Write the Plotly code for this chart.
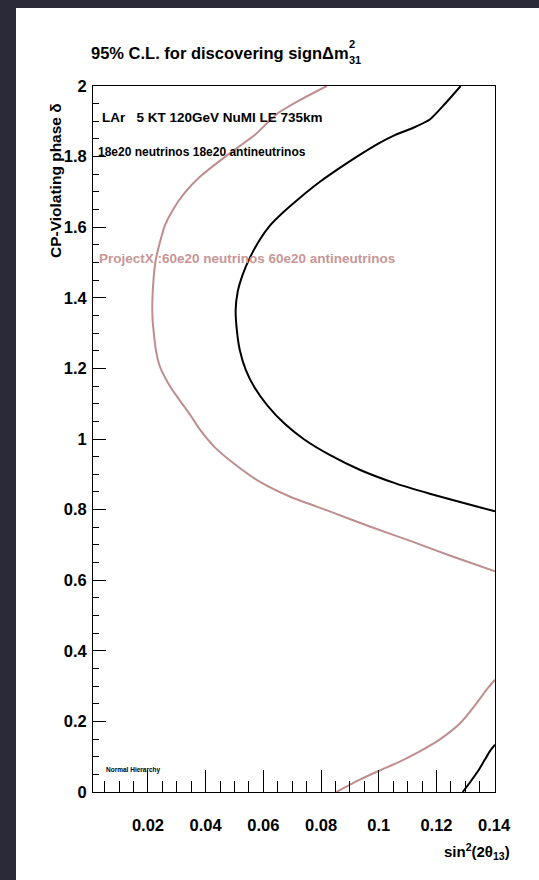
import plotly.graph_objects as go

# ---- tick labels ----
x_tickvals = [0.02, 0.04, 0.06, 0.08, 0.10, 0.12, 0.14]
x_ticktext = ["0.02", "0.04", "0.06", "0.08", "0.1", "0.12", "0.14"]
y_tickvals = [0, 0.2, 0.4, 0.6, 0.8, 1.0, 1.2, 1.4, 1.6, 1.8, 2.0]
y_ticktext = ["0", "0.2", "0.4", "0.6", "0.8", "1", "1.2", "1.4", "1.6", "1.8", "2"]

# ---- ProjectX contour (60e20 + 60e20), upper branch ----
projx_up_x = [0.0820, 0.0726, 0.0650, 0.0570, 0.0476, 0.0379, 0.0327, 0.0286, 0.0258,
              0.0241, 0.0227, 0.0220, 0.0215, 0.0216, 0.0220, 0.0227, 0.0241, 0.0268,
              0.0305, 0.0345, 0.0379, 0.0431, 0.0500, 0.0587, 0.0691, 0.0830, 0.0969,
              0.1107, 0.1246, 0.1403]
projx_up_y = [2.000, 1.960, 1.923, 1.861, 1.805, 1.742, 1.697, 1.649, 1.604,
              1.556, 1.508, 1.460, 1.386, 1.338, 1.302, 1.254, 1.206, 1.161,
              1.115, 1.070, 1.028, 0.977, 0.929, 0.879, 0.837, 0.795, 0.752,
              0.712, 0.670, 0.625]
# lower branch
projx_lo_x = [0.0853, 0.0934, 0.1003, 0.1073, 0.1142, 0.1212, 0.1281, 0.1333, 0.1374, 0.1403]
projx_lo_y = [0.000, 0.035, 0.061, 0.086, 0.115, 0.149, 0.194, 0.245, 0.290, 0.318]

# ---- NuMI LE contour (18e20 + 18e20), upper branch ----
numi_up_x = [0.1284, 0.1229, 0.1177, 0.1118, 0.1056, 0.1003, 0.0934, 0.0865, 0.0795,
             0.0726, 0.0667, 0.0622, 0.0587, 0.0553, 0.0528, 0.0511, 0.0504, 0.0508,
             0.0518, 0.0539, 0.0570, 0.0615, 0.0674, 0.0743, 0.0830, 0.0934, 0.1056,
             0.1177, 0.1298, 0.1403]
numi_up_y = [2.000, 1.949, 1.905, 1.881, 1.861, 1.839, 1.805, 1.768, 1.728,
             1.683, 1.641, 1.604, 1.564, 1.513, 1.465, 1.417, 1.366, 1.309,
             1.253, 1.196, 1.145, 1.094, 1.043, 0.998, 0.955, 0.913, 0.875,
             0.845, 0.818, 0.795]
# lower branch
numi_lo_x = [0.1291, 0.1316, 0.1343, 0.1368, 0.1385, 0.1403]
numi_lo_y = [0.000, 0.027, 0.058, 0.092, 0.115, 0.134]

PINK = "rgb(190,142,142)"
PINK_TXT = "rgb(200,150,150)"

fig = go.Figure()
for xs, ys, col in [(projx_up_x, projx_up_y, PINK), (projx_lo_x, projx_lo_y, PINK),
                    (numi_up_x, numi_up_y, "black"), (numi_lo_x, numi_lo_y, "black")]:
    fig.add_trace(go.Scatter(x=xs, y=ys, mode="lines",
                             line=dict(color=col, width=2, shape="spline", smoothing=0.6),
                             showlegend=False, hoverinfo="skip"))

L, R, T, B = 93, 44, 86, 88
W, H = 539, 880
PW, PH = W - L - R, H - T - B


def px2x(px):
    return (px - L) / PW


def py2y(py):
    return (H - B - py) / PH


FONT = "Liberation Sans"

annotations = [
    dict(text="<b>95% C.L. for discovering signΔm</b>", x=px2x(89), y=py2y(53),
         xanchor="left", yanchor="middle", font=dict(family=FONT, size=16.5, color="black")),
    dict(text="<b>2</b>", x=px2x(347), y=py2y(44), xanchor="left", yanchor="middle",
         font=dict(family=FONT, size=11, color="black")),
    dict(text="<b>31</b>", x=px2x(347), y=py2y(60), xanchor="left", yanchor="middle",
         font=dict(family=FONT, size=11, color="black")),
    dict(text="<b>CP-Violating phase δ</b>", x=px2x(55), y=py2y(181), textangle=-90,
         xanchor="center", yanchor="middle", font=dict(family=FONT, size=15.5, color="black")),
    dict(text="<b>sin<sup>2</sup>(2θ<sub>13</sub>)</b>", x=px2x(512), y=py2y(851),
         xanchor="right", yanchor="middle", font=dict(family=FONT, size=15, color="black")),
    dict(text="<b>LAr\u00a0\u00a0 5 KT 120GeV NuMI LE 735km</b>", x=px2x(100), y=py2y(117),
         xanchor="left", yanchor="middle", font=dict(family=FONT, size=13.5, color="black")),
    dict(text="<b>18e20 neutrinos 18e20 antineutrinos</b>", x=px2x(96), y=py2y(152),
         xanchor="left", yanchor="middle", font=dict(family=FONT, size=12, color="black")),
    dict(text="<b>ProjectX :60e20 neutrinos 60e20 antineutrinos</b>", x=px2x(97), y=py2y(258),
         xanchor="left", yanchor="middle", font=dict(family=FONT, size=13.5, color=PINK_TXT)),
    dict(text="<b>Normal Hierarchy</b>", x=px2x(104), y=py2y(770),
         xanchor="left", yanchor="middle", font=dict(family=FONT, size=6.5, color="black")),
]
for a in annotations:
    a.update(xref="paper", yref="paper", showarrow=False)

fig.update_layout(
    width=W, height=H,
    margin=dict(l=L, r=R, t=T, b=B, pad=0),
    paper_bgcolor="rgb(42,42,56)",
    plot_bgcolor="white",
    annotations=annotations,
    shapes=[dict(type="rect", xref="paper", yref="paper", x0=px2x(16), x1=px2x(560),
                 y0=py2y(900), y1=py2y(8), fillcolor="white", line=dict(width=0), layer="below")],
)

tickfont = dict(family=FONT, size=16.5, color="black", weight="bold")
fig.update_xaxes(range=[0.00094, 0.1403], showgrid=False, zeroline=False,
                 showline=True, mirror=True, linecolor="black", linewidth=1,
                 ticks="inside", ticklen=22, tickwidth=1, tickcolor="black",
                 tickvals=x_tickvals, ticktext=x_ticktext, tickfont=tickfont,
                 ticklabelstandoff=18, automargin=False,
                 minor=dict(dtick=0.005, tick0=0, ticks="inside", ticklen=11,
                            tickcolor="black", tickwidth=1, showgrid=False))
fig.update_yaxes(range=[0, 2], showgrid=False, zeroline=False,
                 showline=True, mirror=True, linecolor="black", linewidth=1,
                 ticks="inside", ticklen=13, tickwidth=1, tickcolor="black",
                 tickvals=y_tickvals, ticktext=y_ticktext, tickfont=tickfont,
                 ticklabelstandoff=2, automargin=False,
                 minor=dict(dtick=0.05, tick0=0, ticks="inside", ticklen=6,
                            tickcolor="black", tickwidth=1, showgrid=False))

fig.write_html("out.html", config={"displayModeBar": False},
               post_script="document.body.style.margin='0';document.body.style.background='rgb(42,42,56)';")
